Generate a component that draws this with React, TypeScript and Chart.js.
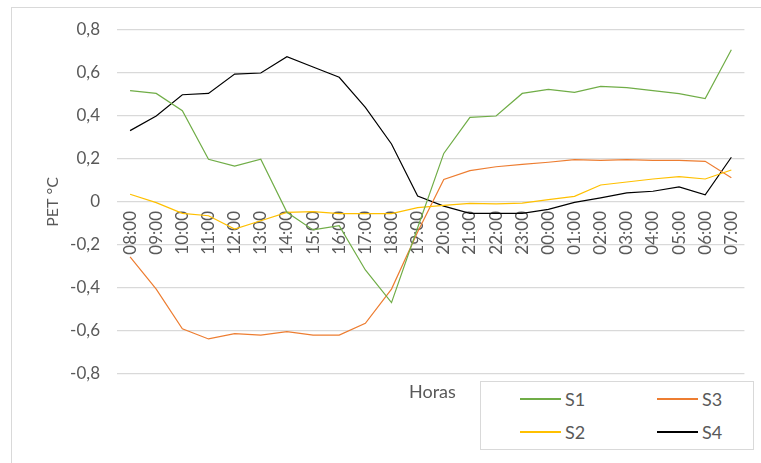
import React, { useEffect, useRef } from "react";
import { Chart, registerables } from "chart.js";

Chart.register(...registerables);

const hours = ["08:00","09:00","10:00","11:00","12:00","13:00","14:00","15:00","16:00","17:00","18:00","19:00","20:00","21:00","22:00","23:00","00:00","01:00","02:00","03:00","04:00","05:00","06:00","07:00"];

const s1 = [0.518, 0.505, 0.425, 0.199, 0.167, 0.199, -0.048, -0.13, -0.11, -0.316, -0.468, -0.12, 0.226, 0.394, 0.40, 0.505, 0.524, 0.51, 0.538, 0.532, 0.518, 0.504, 0.481, 0.708];
const s2 = [0.036, -0.003, -0.053, -0.064, -0.126, -0.087, -0.048, -0.045, -0.054, -0.054, -0.054, -0.026, -0.016, -0.006, -0.009, -0.005, 0.011, 0.026, 0.079, 0.093, 0.107, 0.118, 0.107, 0.149];
const s3 = [-0.255, -0.405, -0.59, -0.637, -0.612, -0.619, -0.603, -0.619, -0.619, -0.564, -0.405, -0.14, 0.105, 0.146, 0.164, 0.175, 0.185, 0.197, 0.194, 0.197, 0.194, 0.194, 0.189, 0.113];
const s4 = [0.332, 0.40, 0.499, 0.505, 0.595, 0.60, 0.676, 0.628, 0.58, 0.44, 0.27, 0.028, -0.019, -0.053, -0.053, -0.053, -0.034, -0.002, 0.019, 0.042, 0.05, 0.07, 0.033, 0.208];

const seriesNames = ["S1", "S2", "S3", "S4"];
const seriesColors = ["#70AD47", "#FFC000", "#ED7D31", "#000000"];
const yMin = -0.8;
const yMax = 0.8;
const yStep = 0.2;
const yTitle = "PET °C";
const xTitle = "Horas";

const FONT = "Lato, 'Liberation Sans', sans-serif";
const TEXT = "#595959";
const GRID = "#d9d9d9";

function fmt(v: number): string {
  const r = Math.round(v * 10) / 10;
  if (r === 0) return "0";
  return r.toFixed(1).replace(".", ",");
}

export default function App() {
  const ref = useRef<HTMLCanvasElement | null>(null);

  useEffect(() => {
    if (!ref.current) return;
    const data = [s1, s2, s3, s4];
    const chart = new Chart(ref.current, {
      type: "line",
      data: {
        labels: hours,
        datasets: data.map((d, i) => ({
          label: seriesNames[i],
          data: d,
          borderColor: seriesColors[i],
          backgroundColor: seriesColors[i],
          borderWidth: 1.2,
          pointRadius: 0,
          tension: 0,
          fill: false,
        })),
      },
      options: {
        animation: false,
        responsive: false,
        maintainAspectRatio: false,
        layout: { padding: { left: 0, top: 30, right: 12, bottom: 89 } },
        plugins: { legend: { display: false }, tooltip: { enabled: false } },
        scales: {
          x: {
            type: "category",
            position: { y: 0 } as any,
            offset: true,
            grid: { display: false, drawTicks: false },
            border: { display: false },
            ticks: {
              autoSkip: false,
              minRotation: 90,
              maxRotation: 90,
              padding: 9,
              color: TEXT,
              font: { family: FONT, size: 17 },
            },
          },
          y: {
            min: yMin,
            max: yMax,
            grid: { color: GRID, lineWidth: 1.2, drawTicks: false },
            border: { display: false },
            ticks: {
              stepSize: yStep,
              padding: 17,
              color: TEXT,
              font: { family: FONT, size: 17 },
              callback: (v: any) => fmt(Number(v)),
            },
            title: {
              display: true,
              text: yTitle,
              color: TEXT,
              font: { family: FONT, size: 16 },
              padding: { top: 43, bottom: 0 },
            },
            afterFit: (scale: any) => {
              scale.width = 117;
            },
          },
        },
      },
    });
    return () => chart.destroy();
  }, []);

  const legendItems = [
    { name: seriesNames[0], color: seriesColors[0], lx: 520, ly: 399 },
    { name: seriesNames[2], color: seriesColors[2], lx: 657, ly: 399 },
    { name: seriesNames[1], color: seriesColors[1], lx: 520, ly: 432 },
    { name: seriesNames[3], color: seriesColors[3], lx: 657, ly: 432 },
  ];

  return (
    <div style={{ position: "fixed", left: 0, top: 0, width: 761, height: 463, background: "#fff", overflow: "hidden", fontFamily: FONT }}>
      <div style={{ position: "absolute", left: 11, top: 7, width: 760, height: 470, borderLeft: `1px solid ${GRID}`, borderTop: `1px solid ${GRID}` }} />
      <canvas ref={ref} width={761} height={463} style={{ position: "absolute", left: 0, top: 0, width: 761, height: 463 }} />
      <div style={{ position: "absolute", left: 409, top: 380, fontSize: 18, lineHeight: "22px", color: TEXT }}>{xTitle}</div>
      <div style={{ position: "absolute", left: 480, top: 381, width: 272, height: 67, border: `1px solid ${GRID}`, background: "#fff", zIndex: 1 }} />
      {legendItems.map((it) => (
        <React.Fragment key={it.name}>
          <div style={{ position: "absolute", left: it.lx, top: it.ly - 1, width: 41, height: 0, borderTop: `2px solid ${it.color}`, zIndex: 2 }} />
          <div style={{ position: "absolute", left: it.lx + 45, top: it.ly - 11, fontSize: 18, lineHeight: "22px", color: TEXT, zIndex: 2 }}>{it.name}</div>
        </React.Fragment>
      ))}
    </div>
  );
}
